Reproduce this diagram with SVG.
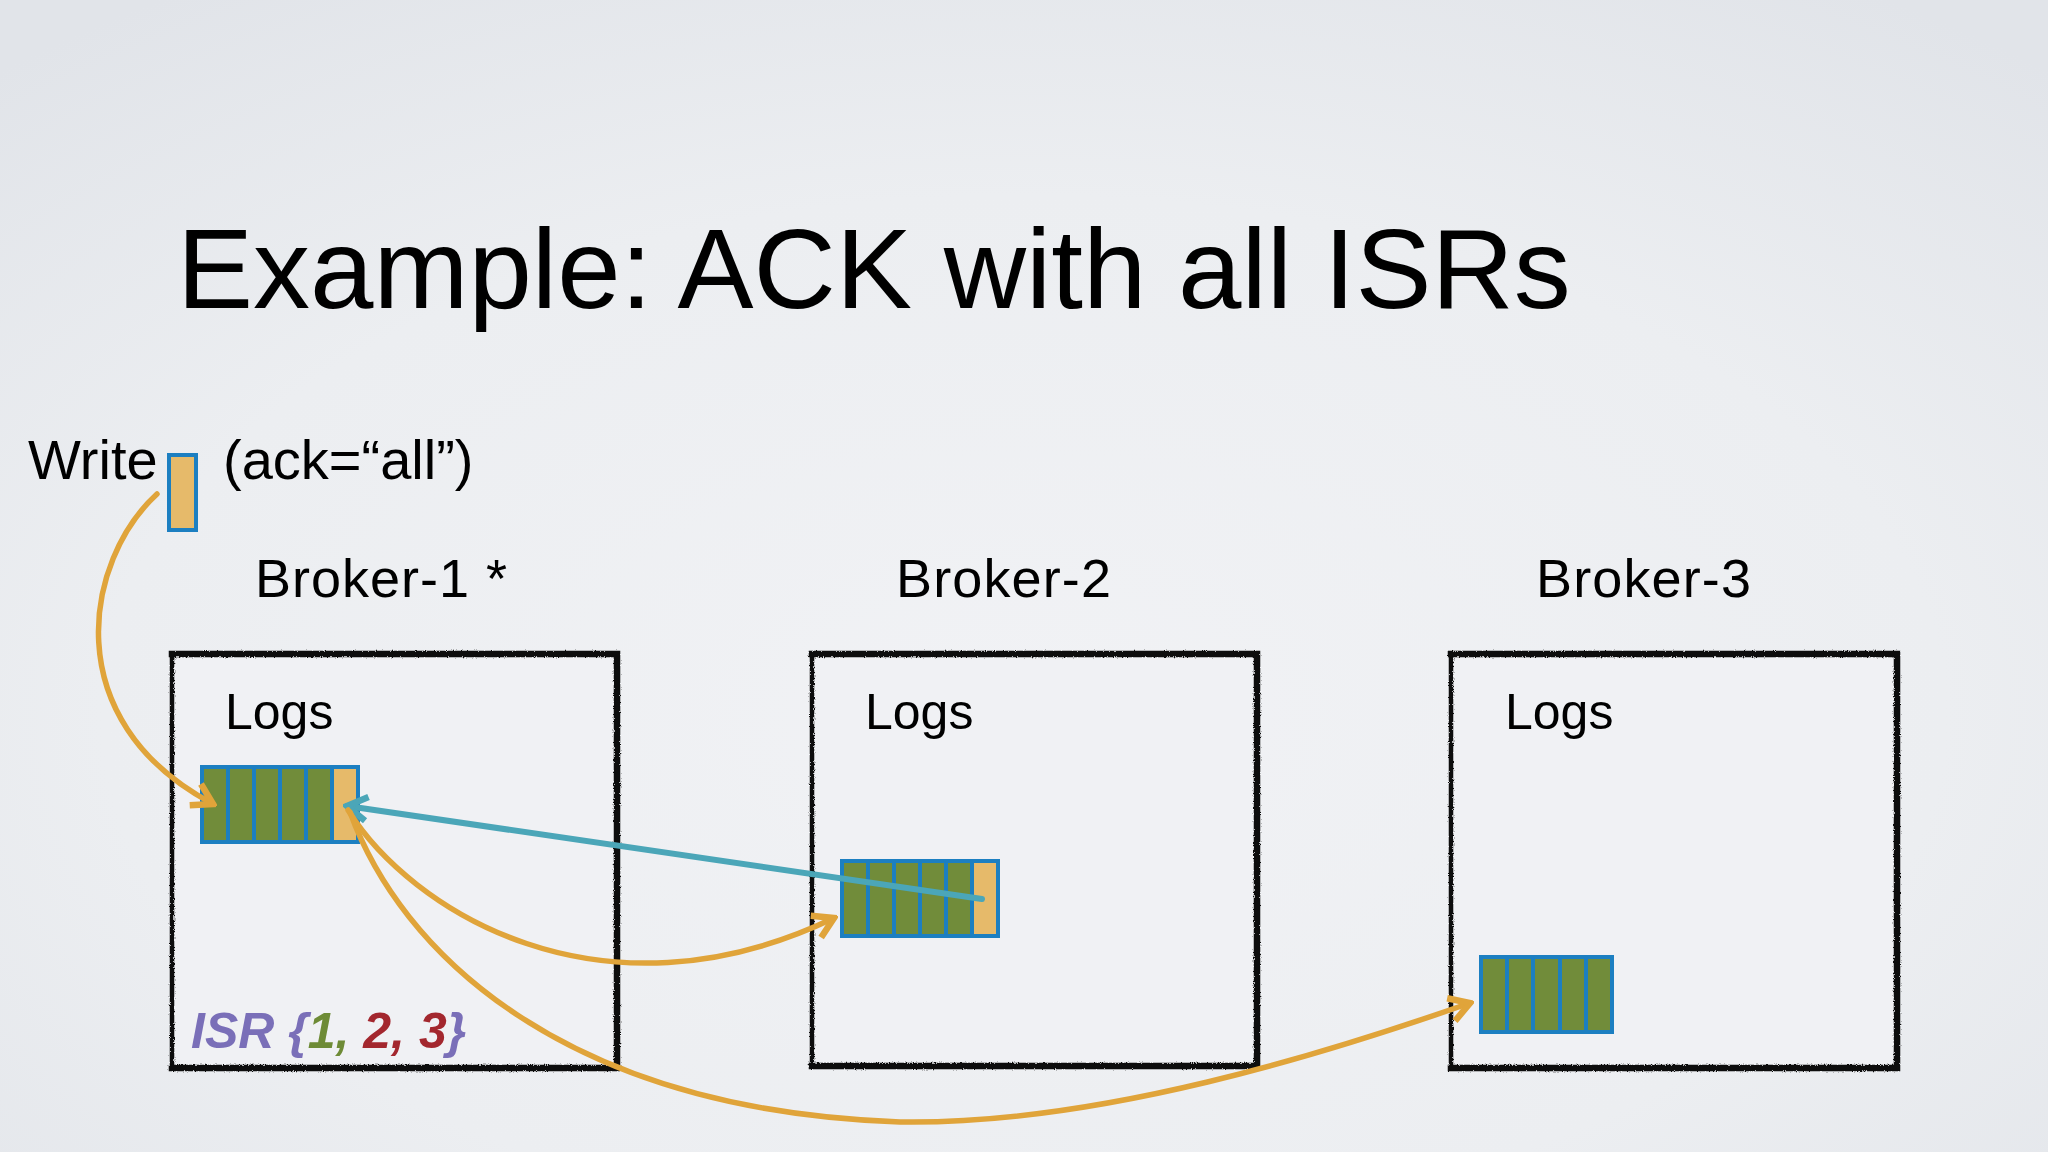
<svg xmlns="http://www.w3.org/2000/svg" width="2048" height="1152" viewBox="0 0 2048 1152">
  <defs>
    <radialGradient id="bg" cx="0.5" cy="0.62" r="0.75">
      <stop offset="0" stop-color="#F1F2F5"/>
      <stop offset="0.6" stop-color="#ECEEF1"/>
      <stop offset="1" stop-color="#E1E4E9"/>
    </radialGradient>
    <filter id="rough" filterUnits="userSpaceOnUse" x="0" y="0" width="2048" height="1152">
      <feTurbulence type="fractalNoise" baseFrequency="0.9" numOctaves="2" seed="3" result="n"/>
      <feDisplacementMap in="SourceGraphic" in2="n" scale="3" xChannelSelector="R" yChannelSelector="G"/>
    </filter>
    <marker id="arrO" viewBox="-26 -16 30 32" refX="0" refY="0" markerWidth="30" markerHeight="32" markerUnits="userSpaceOnUse" orient="auto">
      <path d="M-20,-12 L0,0 L-20,12" fill="none" stroke="#E0A43A" stroke-width="6.5" stroke-linejoin="miter"/>
    </marker>
    <marker id="arrT" viewBox="-26 -16 30 32" refX="0" refY="0" markerWidth="30" markerHeight="32" markerUnits="userSpaceOnUse" orient="auto">
      <path d="M-20,-12 L0,0 L-20,12" fill="none" stroke="#4BA6B8" stroke-width="6.5" stroke-linejoin="miter"/>
    </marker>
    <style>
      .t { font-family: "Liberation Sans", Arial, sans-serif; fill: #000; }
      .lbl { font-size: 54px; }
      .logs { font-size: 50px; }
      .box { fill: #F0F1F4; stroke: none; }
      .edge { stroke: #0A0A0A; fill: none; stroke-linecap: square; filter: url(#rough); }
      .g { fill: #718C3A; }
      .tan { fill: #E6BA6A; }
      .frame { fill: none; stroke: #1C7FC1; stroke-width: 4; }
      .sep { stroke: #1C7FC1; stroke-width: 4; }
      .or { fill: none; stroke: #E0A43A; stroke-width: 5.5; stroke-linecap: round; }
      .tl { fill: none; stroke: #4BA6B8; stroke-width: 6; stroke-linecap: round; }
    </style>
  </defs>

  <rect x="0" y="0" width="2048" height="1152" fill="url(#bg)"/>

  <g id="title">
    <text class="t" x="177" y="308" font-size="114">Example: ACK with all ISRs</text>
  </g>

  <g id="write">
    <text class="t" x="28" y="479" font-size="56">Write</text>
    <rect x="169" y="455" width="27" height="75" class="tan" stroke="#1C7FC1" stroke-width="4"/>
    <text class="t" x="223" y="479" font-size="56">(ack=“all”)</text>
  </g>

  <g id="broker1">
    <text class="t lbl" x="255" y="597" textLength="252">Broker-1 *</text>
    <rect class="box" x="171" y="652" width="448" height="417"/>
    <path class="edge" stroke-width="4.5" d="M172,655 L172,1068"/>
    <path class="edge" stroke-width="6.5" d="M172,654 L617,654 L617,1068 L172,1068"/>
    <text class="t logs" x="225" y="729">Logs</text>
    <g id="log1">
      <rect class="g" x="202" y="767" width="130" height="75"/>
      <rect class="tan" x="332" y="767" width="26" height="75"/>
      <line class="sep" x1="228" y1="767" x2="228" y2="842"/>
      <line class="sep" x1="254" y1="767" x2="254" y2="842"/>
      <line class="sep" x1="280" y1="767" x2="280" y2="842"/>
      <line class="sep" x1="306" y1="767" x2="306" y2="842"/>
      <line class="sep" x1="332" y1="767" x2="332" y2="842"/>
      <rect class="frame" x="202" y="767" width="156" height="75"/>
    </g>
    <text x="191" y="1048" font-family="'Liberation Sans', Arial, sans-serif" font-size="50" font-weight="bold" font-style="italic"><tspan fill="#7A6FB8">ISR {</tspan><tspan fill="#6E8B36">1, </tspan><tspan fill="#A3272E">2, 3</tspan><tspan fill="#7A6FB8">}</tspan></text>
  </g>

  <g id="broker2">
    <text class="t lbl" x="896" y="597" textLength="215">Broker-2</text>
    <rect class="box" x="811" y="652" width="448" height="416"/>
    <path class="edge" stroke-width="4.5" d="M812,655 L812,1066"/>
    <path class="edge" stroke-width="6.5" d="M812,654 L1257,654 L1257,1066 L812,1066"/>
    <text class="t logs" x="865" y="729">Logs</text>
    <g id="log2">
      <rect class="g" x="842" y="861" width="130" height="75"/>
      <rect class="tan" x="972" y="861" width="26" height="75"/>
      <line class="sep" x1="868" y1="861" x2="868" y2="936"/>
      <line class="sep" x1="894" y1="861" x2="894" y2="936"/>
      <line class="sep" x1="920" y1="861" x2="920" y2="936"/>
      <line class="sep" x1="946" y1="861" x2="946" y2="936"/>
      <line class="sep" x1="972" y1="861" x2="972" y2="936"/>
      <rect class="frame" x="842" y="861" width="156" height="75"/>
    </g>
  </g>

  <g id="broker3">
    <text class="t lbl" x="1536" y="597" textLength="215">Broker-3</text>
    <rect class="box" x="1450" y="652" width="449" height="417"/>
    <path class="edge" stroke-width="4.5" d="M1451,655 L1451,1068"/>
    <path class="edge" stroke-width="6.5" d="M1451,654 L1897,654 L1897,1068 L1451,1068"/>
    <text class="t logs" x="1505" y="729">Logs</text>
    <g id="log3">
      <rect class="g" x="1481" y="957" width="131" height="75"/>
      <line class="sep" x1="1507" y1="957" x2="1507" y2="1032"/>
      <line class="sep" x1="1533" y1="957" x2="1533" y2="1032"/>
      <line class="sep" x1="1560" y1="957" x2="1560" y2="1032"/>
      <line class="sep" x1="1586" y1="957" x2="1586" y2="1032"/>
      <rect class="frame" x="1481" y="957" width="131" height="75"/>
    </g>
  </g>

  <g id="connectors">
    <path id="c-write" class="or" d="M157,494 C85,560 55,720 213,804" marker-end="url(#arrO)"/>
    <path id="c-b2-ack" class="tl" d="M982,899 L347,806" marker-end="url(#arrT)"/>
    <path id="c-b1-b2" class="or" d="M348,810 C410,910 600,1030 834,918" marker-end="url(#arrO)"/>
    <path id="c-b1-b3" class="or" d="M350,812 C400,950 560,1110 900,1122 C1100,1125 1330,1052 1470,1003" marker-end="url(#arrO)"/>
  </g>
</svg>
